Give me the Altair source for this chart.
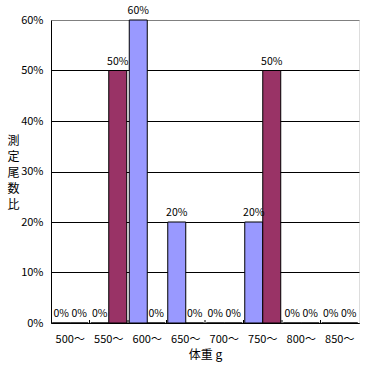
import altair as alt
import pandas as pd

categories = ["500～", "550～", "600～", "650～", "700～", "750～", "800～", "850～"]
series_names = ["A", "B"]
series_a = [0.0, 0.0, 0.6, 0.2, 0.0, 0.2, 0.0, 0.0]   # light blue
series_b = [0.0, 0.5, 0.0, 0.0, 0.0, 0.5, 0.0, 0.0]   # maroon
colors = ["#9999FF", "#993366"]

rows = []
for i, c in enumerate(categories):
    rows.append({"cat": c, "s": series_names[0], "v": series_a[i], "o": 0})
    rows.append({"cat": c, "s": series_names[1], "v": series_b[i], "o": 1})
df = pd.DataFrame(rows)

W, H = 308, 303
FONT = "Noto Sans CJK JP"

x_enc = alt.X("cat:N", sort=categories,
              scale=alt.Scale(paddingInner=0, paddingOuter=0),
              axis=alt.Axis(title="体重 g", labelAngle=0, ticks=False,
                            labelPadding=10, titlePadding=5,
                            labelFontSize=11, titleFontSize=12,
                            titleFontWeight="normal",
                            domainColor="black", labelColor="black",
                            titleColor="black", labelFont=FONT, titleFont=FONT))
xo = alt.XOffset("o:O", scale=alt.Scale(paddingOuter=0.07, paddingInner=0.0))
y_enc = alt.Y("v:Q", scale=alt.Scale(domain=[0, 0.6]),
              axis=alt.Axis(format=".0%", values=[0, 0.1, 0.2, 0.3, 0.4, 0.5, 0.6],
                            ticks=False, labelPadding=8, labelFontSize=11,
                            labelColor="black", domainColor="black",
                            gridColor={"condition": {"test": "datum.value >= 0.6", "value": "#808080"},
                                       "value": "black"},
                            gridOpacity=1,
                            title=["測", "定", "尾", "数", "比"], titleAngle=0,
                            titleX=-38, titleY=115, titleAlign="center",
                            titleBaseline="top", titleLineHeight=16,
                            titleFontSize=12, titleFontWeight="normal",
                            titleColor="black", labelFont=FONT, titleFont=FONT))

bars = alt.Chart(df).mark_bar(stroke="black", strokeWidth=1).encode(
    x=x_enc, xOffset=xo, y=y_enc,
    color=alt.Color("s:N", scale=alt.Scale(domain=series_names, range=colors), legend=None),
)

labels = alt.Chart(df).mark_text(baseline="bottom", dy=-4, fontSize=10.5, font=FONT, color="black").encode(
    x=alt.X("cat:N", sort=categories), xOffset=alt.XOffset("o:O"), y="v:Q",
    text=alt.Text("v:Q", format=".0%"),
)

ticks = alt.Chart(pd.DataFrame({"cat": categories[1:]})).mark_rule(color="black", strokeWidth=1).encode(
    x=alt.X("cat:N", sort=categories, bandPosition=0),
    y=alt.value(H), y2=alt.value(H - 3),
)

chart = alt.layer(bars, labels, ticks).properties(
    width=W, height=H,
    autosize=alt.AutoSizeParams(type="none"),
    padding={"left": 51, "top": 20, "right": 8, "bottom": 44},
).configure_view(stroke="#808080", strokeWidth=1).configure(background="white")

chart.save("out.html", embed_options={"renderer": "svg", "actions": False})
